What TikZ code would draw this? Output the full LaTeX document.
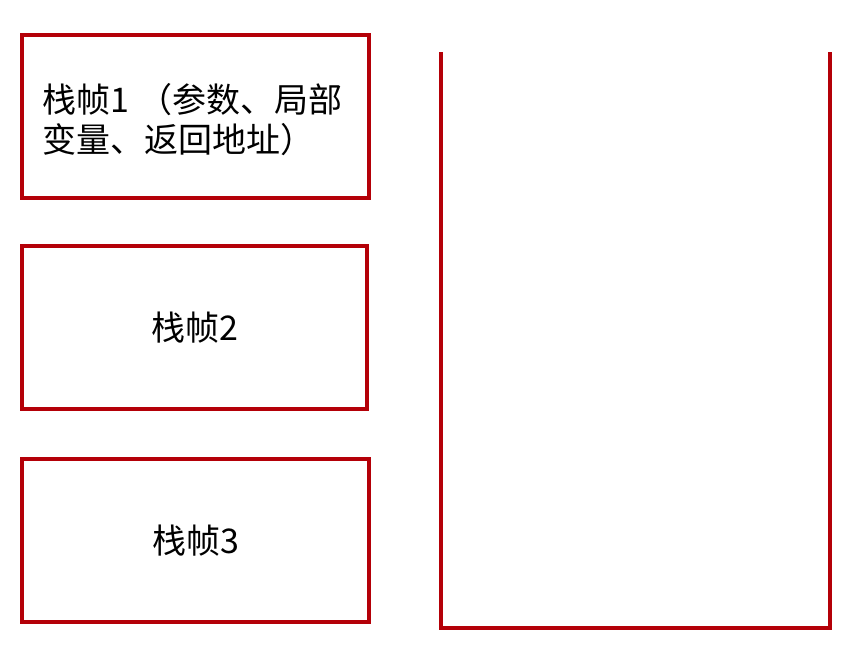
\documentclass[tikz,border=0pt]{standalone}
\usepackage{fontspec}
\newfontfamily\cjk{Noto Sans CJK SC}
\usetikzlibrary{positioning}
\definecolor{FrameRed}{HTML}{B40008}
\tikzset{
  framebox/.style={draw=FrameRed,fill=white,line width=4pt,minimum width=347pt,minimum height=163pt,align=center,inner sep=0pt,font=\cjk\fontsize{34}{40}\selectfont},
  stackline/.style={draw=FrameRed,line width=4pt,line join=miter}
}
\begin{document}
\begin{tikzpicture}[x=1pt,y=-1pt]
  \useasboundingbox (0,0) rectangle (857,651);
  \node[framebox] (frame1) at (195.5,116.5) {\parbox{306pt}{\raggedright\vspace*{6pt}栈帧1\hspace{9pt}（参数、局部\\变量、返回地址）}};
  \node[framebox,minimum width=345pt] (frame2) at (194.5,327.5) {栈帧2};
  \node[framebox] (frame3) at (195.5,540.5) {栈帧3};
  % stack container, open at the top
  \coordinate (stacktl) at (441,52);
  \coordinate (stackbl) at (441,628);
  \coordinate (stackbr) at (830,628);
  \coordinate (stacktr) at (830,52);
  \draw[stackline] (stacktl) -- (stackbl) -- (stackbr) -- (stacktr);
\end{tikzpicture}
\end{document}
